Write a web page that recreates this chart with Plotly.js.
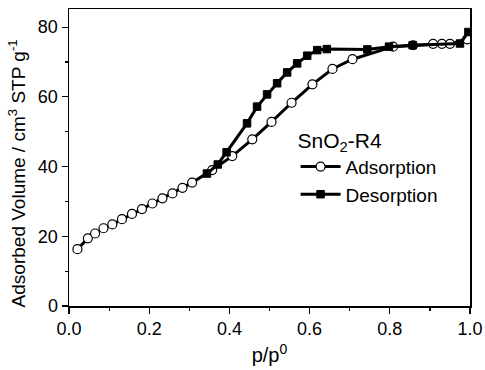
<!DOCTYPE html>
<html><head><meta charset="utf-8">
<script src="https://cdn.plot.ly/plotly-3.0.1.min.js"></script>
<style>html,body{margin:0;padding:0;background:#fff}#chart{width:485px;height:370px}</style>
</head><body><div id="chart"></div>
<script>
const adsX = [0.021,0.047,0.065,0.086,0.108,0.132,0.157,0.182,0.208,0.233,0.258,0.283,0.307,0.357,0.407,0.457,0.505,0.555,0.607,0.657,0.707,0.808,0.858,0.908,0.930,0.950,0.993];
const adsY = [16.3,19.4,20.8,22.3,23.4,24.9,26.4,27.8,29.4,30.9,32.3,33.9,35.4,39.0,43.0,47.8,52.8,58.3,63.6,68.0,70.8,74.4,74.8,75.2,75.2,75.2,76.5];
const desX = [0.996,0.975,0.857,0.798,0.744,0.643,0.619,0.594,0.569,0.544,0.519,0.494,0.469,0.444,0.393,0.371,0.344];
const desY = [78.6,75.3,74.8,74.4,73.6,73.7,73.4,71.8,69.6,67.0,63.9,60.7,57.2,52.4,44.1,40.6,38.0];
const xTickVals = [0,0.2,0.4,0.6,0.8,1.0];
const xTickText = ['0.0','0.2','0.4','0.6','0.8','1.0'];
const yTickVals = [0,20,40,60,80];

const font = 'Liberation Sans, Arial, sans-serif';
const traces = [
  {x: adsX, y: adsY, name: 'Adsorption', mode: 'lines+markers', type: 'scatter',
   line: {color: '#000', width: 3},
   marker: {symbol: 'circle', size: 9, color: '#fff', line: {color: '#000', width: 1.2}}},
  {x: desX, y: desY, name: 'Desorption', mode: 'lines+markers', type: 'scatter',
   line: {color: '#000', width: 3},
   marker: {symbol: 'square', size: 7.5, color: '#000', line: {color: '#000', width: 1}}}
];
const layout = {
  width: 485, height: 370,
  margin: {l: 69, r: 15, t: 9, b: 64},
  paper_bgcolor: '#fff', plot_bgcolor: '#fff',
  font: {family: font, color: '#000', size: 18},
  showlegend: true,
  legend: {x: 0.565, y: 0.625, xanchor: 'left', yanchor: 'top',
    bgcolor: 'rgba(0,0,0,0)', font: {size: 19, family: font},
    title: {text: 'SnO<sub>2</sub>-R4', font: {size: 21, family: font}},
    tracegroupgap: 0, itemwidth: 40},
  xaxis: {range: [0, 1.0], showgrid: false, zeroline: false,
    showline: true, linecolor: '#000', linewidth: 1.5, mirror: true,
    ticks: 'outside', ticklen: 6, tickwidth: 1.2, tickcolor: '#000',
    tickvals: xTickVals, ticktext: xTickText,
    minor: {ticks: 'outside', ticklen: 3, tickwidth: 1.2, tickcolor: '#000', dtick: 0.1},
    tickfont: {size: 18},
    title: {text: 'p/p<sup>0</sup>', font: {size: 20}, standoff: 10}},
  yaxis: {range: [0, 85.2], showgrid: false, zeroline: false,
    showline: true, linecolor: '#000', linewidth: 1.5, mirror: true,
    ticks: 'outside', ticklen: 6, tickwidth: 1.2, tickcolor: '#000',
    tickvals: yTickVals,
    minor: {ticks: 'outside', ticklen: 3, tickwidth: 1.2, tickcolor: '#000', dtick: 10},
    tickfont: {size: 18},
    title: {text: 'Adsorbed Volume / cm<sup>3</sup> STP g<sup>-1</sup>&nbsp;&nbsp;&nbsp;&nbsp;&nbsp;&nbsp;', font: {size: 19}, standoff: 7}}
};
Plotly.newPlot('chart', traces, layout, {displayModeBar: false, staticPlot: true});
</script></body></html>
